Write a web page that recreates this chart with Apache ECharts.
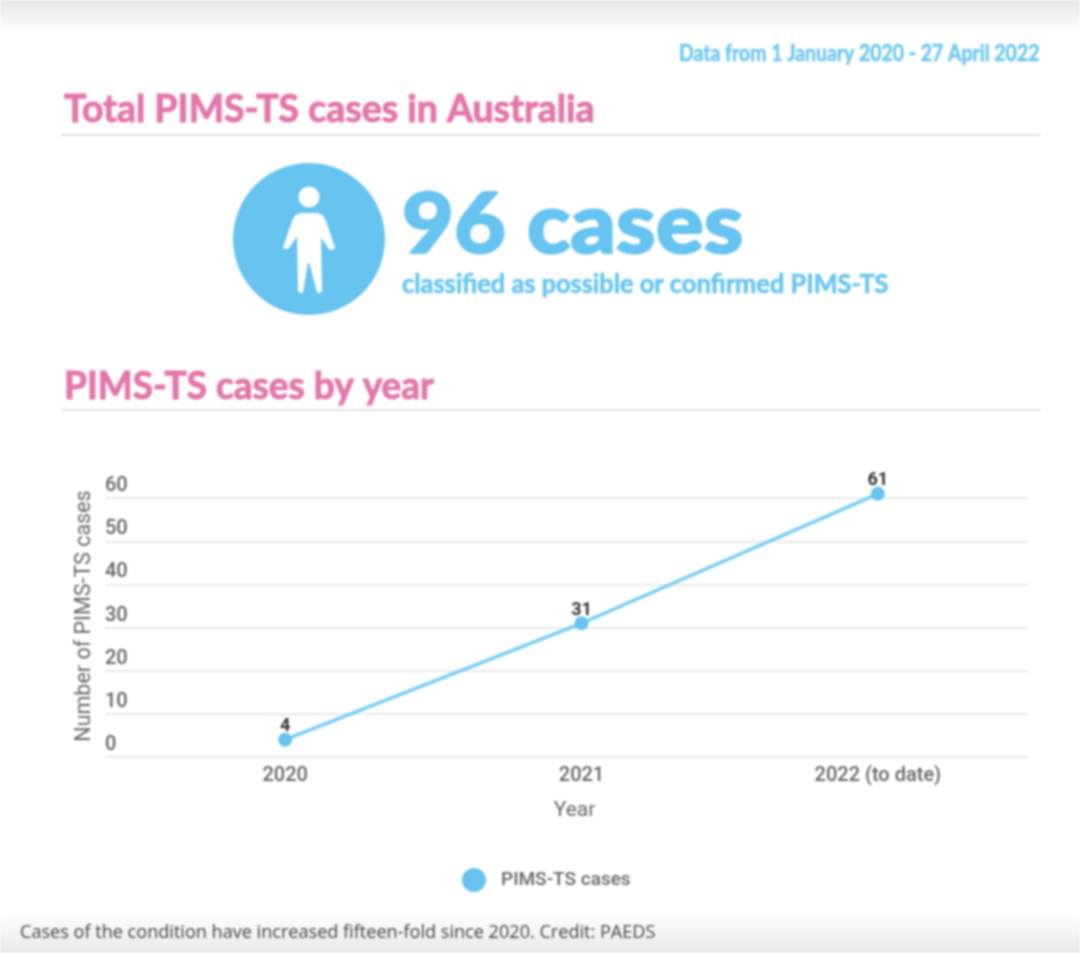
<!DOCTYPE html>
<html>
<head>
<meta charset="utf-8">
<title>PIMS-TS cases</title>
<style>
    html, body { margin: 0; padding: 0; background: #fff; }
    #main { width: 1080px; height: 953px; filter: blur(0.8px); }
</style>
<script src="https://cdn.jsdelivr.net/npm/echarts@6/dist/echarts.min.js"></script>
</head>
<body>
<div id="main"></div>
<script>
//数据
var years = ['2020', '2021', '2022 (to date)'];
var cases = [4, 31, 61];
var seriesName = 'PIMS-TS cases';

var pink = '#e377ab';
var blue = '#67c3f0';
var lineBlue = '#78cdf2';
var gridGrey = '#e9e9e9';
var textGrey = '#666';

(function () {
    var myChart = echarts.init(document.getElementById('main'));

    //页面上的标题、图标等，scaleX 模拟原图的窄字体，heavy 用描边加粗
    function text(x, y, str, size, color, weight, family, scaleX, heavy) {
        return {
            type: 'text', x: x, y: y,
            scaleX: scaleX || 1,
            style: {
                text: str, fontSize: size, fill: color, fontWeight: weight || 'normal',
                fontFamily: family || 'Lato', align: 'left', verticalAlign: 'middle',
                stroke: heavy ? color : null, lineWidth: heavy || 0
            }
        };
    }
    function rule(y) {
        return {
            type: 'line',
            shape: { x1: 61, y1: y, x2: 1041, y2: y },
            style: { stroke: '#e2e2e2', lineWidth: 2 }
        };
    }
    function fade(y, h, from, to) {
        return {
            type: 'rect',
            shape: { x: 0, y: y, width: 1080, height: h },
            style: {
                fill: new echarts.graphic.LinearGradient(0, 0, 0, 1, [
                    { offset: 0, color: from },
                    { offset: 1, color: to }
                ])
            }
        };
    }

    var option = {
        backgroundColor: '#fff',
        animation: false,
        graphic: [
            fade(0, 32, '#e6e6e6', '#ffffff'),
            fade(912, 41, '#ffffff', '#e9e9e9'),
            text(679, 54, 'Data from 1 January 2020 - 27 April 2022', 23, '#6fc8f2', 'bold', 'Lato', 0.845, 0.6),
            text(64, 110, 'Total PIMS-TS cases in Australia', 38.5, pink, 'bold', 'Lato', 0.972, 1),
            rule(135),
            {
                type: 'circle',
                shape: { cx: 309, cy: 239, r: 76 },
                style: { fill: blue }
            },
            {
                type: 'circle',
                shape: { cx: 309, cy: 197, r: 10.5 },
                style: { fill: '#fff' }
            },
            {
                type: 'polygon',
                shape: {
                    points: [[301, 214], [317, 214], [322, 216], [325, 221], [334, 248], [330, 249], [320, 234],
                        [321, 291], [318, 292], [310, 262], [307, 262], [302, 292], [299, 291],
                        [298, 233], [288, 248], [284, 248], [293, 221], [296, 216]]
                },
                style: { fill: '#fff', stroke: '#fff', lineWidth: 2, lineJoin: 'round' }
            },
            text(402, 226, '96 cases', 84, blue, 900, 'Lato', 1.065, 2),
            text(402, 285, 'classified as possible or confirmed PIMS-TS', 26, '#6cc6f1', 'bold', 'Lato', 0.975, 0.7),
            text(64, 387, 'PIMS-TS cases by year', 38.5, pink, 'bold', 'Lato', 0.96, 1),
            rule(410),
            text(20, 933, 'Cases of the condition have increased fifteen-fold since 2020. Credit: PAEDS', 18, '#444', 'normal', 'Open Sans', 1.005)
        ],
        legend: {
            data: [seriesName],
            left: 457,
            top: 863,
            icon: 'circle',
            itemWidth: 24,
            itemHeight: 24,
            itemGap: 0,
            textStyle: { color: textGrey, fontSize: 19, fontWeight: 500, fontFamily: 'Roboto', padding: [0, 0, 0, 10] }
        },
        //第一个 grid 只画网格线和 y 轴文字，第二个画折线
        grid: [
            { left: 105, right: 52, top: 455, height: 302 },
            { left: 137, right: 54, top: 455, height: 302 }
        ],
        xAxis: [
            { gridIndex: 0, type: 'category', data: years, show: false },
            {
                gridIndex: 1,
                type: 'category',
                data: years,
                name: 'Year',
                nameLocation: 'middle',
                nameGap: 43,
                nameTextStyle: { color: textGrey, fontSize: 21, fontFamily: 'Roboto', padding: [0, 14, 0, 0] },
                axisLine: { show: false },
                axisTick: { show: false },
                axisLabel: { color: textGrey, fontSize: 20, fontWeight: 500, fontFamily: 'Roboto', margin: 9 }
            }
        ],
        yAxis: [
            {
                gridIndex: 0,
                type: 'value',
                min: 0,
                max: 70,
                interval: 10,
                axisLine: { show: false },
                axisTick: { show: false },
                axisLabel: {
                    inside: true,
                    margin: 0,
                    showMaxLabel: false,
                    verticalAlign: 'bottom',
                    lineHeight: 24,
                    color: textGrey,
                    fontSize: 20,
                    fontWeight: 500,
                    fontFamily: 'Roboto'
                },
                splitLine: { show: true, showMaxLine: false, lineStyle: { color: gridGrey, width: 2 } }
            },
            {
                gridIndex: 1,
                type: 'value',
                min: 0,
                max: 70,
                interval: 10,
                name: 'Number of PIMS-TS cases',
                nameLocation: 'middle',
                nameGap: 41,
                nameTextStyle: { color: textGrey, fontSize: 21.5, fontFamily: 'Roboto', padding: [0, 20, 0, 0] },
                axisLine: { show: false },
                axisTick: { show: false },
                axisLabel: { show: false },
                splitLine: { show: false }
            }
        ],
        series: [
            {
                name: seriesName,
                type: 'line',
                xAxisIndex: 1,
                yAxisIndex: 1,
                data: cases,
                symbol: 'circle',
                symbolSize: 14,
                itemStyle: { color: blue },
                lineStyle: { color: lineBlue, width: 3.5 },
                label: {
                    show: true,
                    position: 'top',
                    distance: 3,
                    offset: [0, 6],
                    color: '#333',
                    fontSize: 18,
                    fontWeight: 'bold',
                    fontFamily: 'Roboto'
                }
            }
        ]
    };

    myChart.setOption(option);
})();
</script>
</body>
</html>
